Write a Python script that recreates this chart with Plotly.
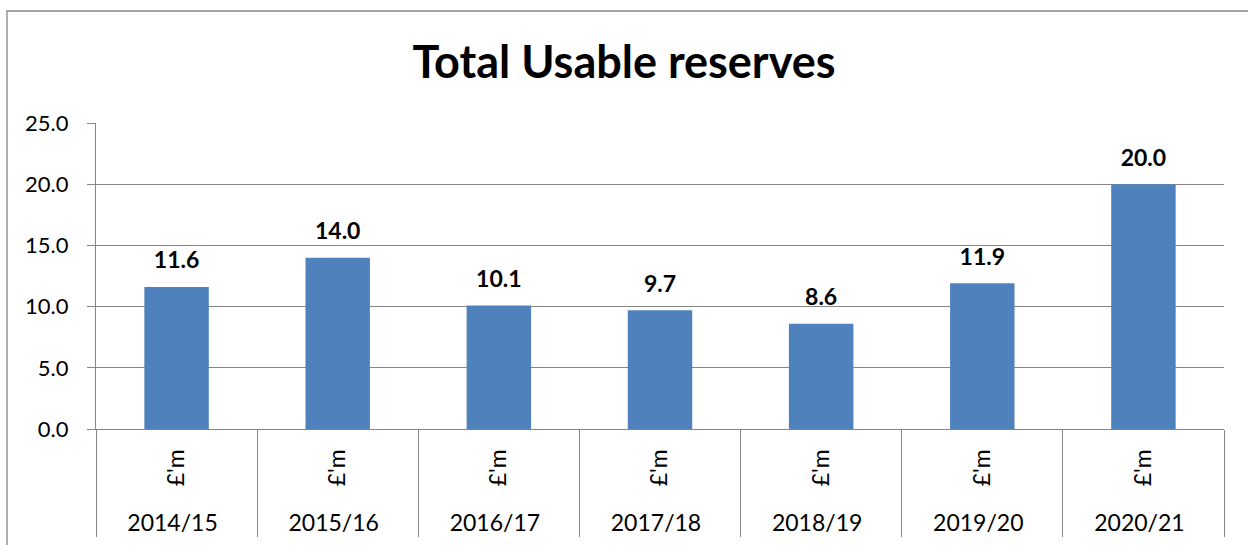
import plotly.graph_objects as go

years = ["2014/15", "2015/16", "2016/17", "2017/18", "2018/19", "2019/20", "2020/21"]
unit = ["\u00a0\u00a0£'m"] * len(years)
values = [11.6, 14.0, 10.1, 9.7, 8.6, 11.9, 20.0]
y_ticks = [0, 5, 10, 15, 20, 25]

FONT = "Lato"
GRAY = "#868686"

fig = go.Figure()
fig.add_trace(go.Bar(
    x=[years, unit],
    y=values,
    width=0.4,
    marker=dict(color="#4F81BD", line=dict(width=0)),
    hoverinfo="skip",
))
# value labels above bars (invisible marker pushes the text up)
fig.add_trace(go.Scatter(
    x=[years, unit],
    y=values,
    mode="markers+text",
    marker=dict(size=19, color="rgba(0,0,0,0)"),
    text=[f"<b>{v:.1f}</b>" for v in values],
    textposition="top center",
    textfont=dict(family=FONT, size=23, color="black"),
    cliponaxis=False,
    hoverinfo="skip",
))

fig.update_layout(
    width=1248, height=545,
    margin=dict(l=96, r=24, t=123, b=116),
    paper_bgcolor="white", plot_bgcolor="white",
    showlegend=False,
    title=dict(text="<b>Total Usable reserves</b>", x=0.5, xanchor="center",
               y=0.885, yanchor="middle",
               font=dict(family=FONT, size=45, color="black")),
    font=dict(family=FONT, size=23, color="black"),
)
fig.update_yaxes(
    range=[0, 25], tickvals=y_ticks, ticktext=[f"{v:.1f}" for v in y_ticks],
    showgrid=True, gridcolor=GRAY, gridwidth=1.3,
    showline=True, linecolor=GRAY, linewidth=1.3,
    ticks="outside", ticklen=8, tickcolor=GRAY, tickwidth=1.3,
    ticklabelstandoff=14, automargin=False,
    tickfont=dict(family=FONT, size=22, color="black"), zeroline=False,
)
fig.update_xaxes(
    type="multicategory", tickangle=-90,
    showline=True, linecolor=GRAY, linewidth=1.3,
    showdividers=True, dividercolor=GRAY, dividerwidth=1.3,
    tickfont=dict(family=FONT, size=23, color="black"),
    ticks="", ticklabelstandoff=10, automargin=False,
)
# chart border
fig.add_shape(type="rect", xref="paper", yref="paper",
              x0=-0.0789, x1=1.05, y0=-0.5, y1=1.366,
              line=dict(color=GRAY, width=1.3), layer="below")

fig.write_html("out.html", config={"displayModeBar": False},
               post_script="document.body.style.margin='0';")
